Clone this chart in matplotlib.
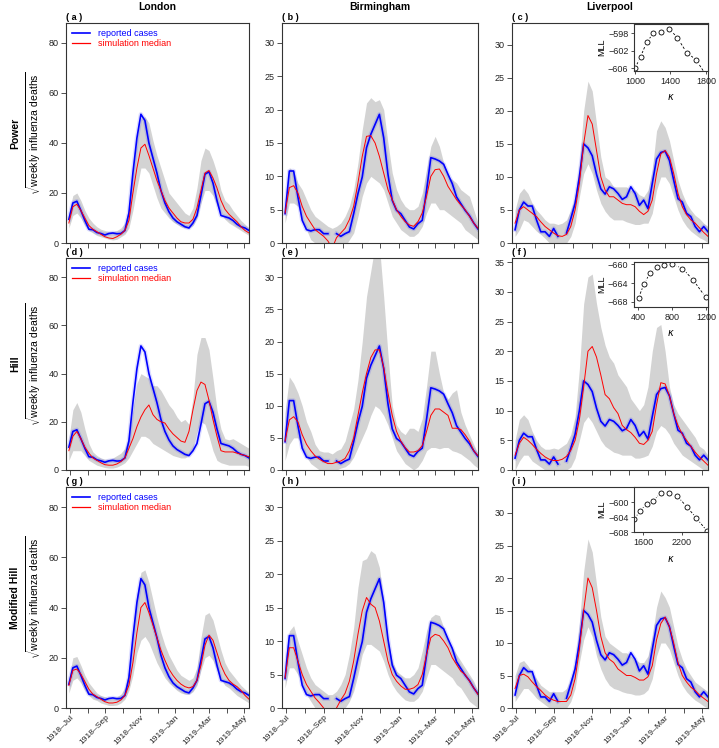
import numpy as np
import pandas as pd
import matplotlib
matplotlib.use('Agg')
import matplotlib.pyplot as plt
import matplotlib.dates as mdates

plt.rcParams.update({
    'font.family': 'Liberation Sans',
    'font.size': 7,
    'mathtext.fontset': 'custom',
    'mathtext.rm': 'Liberation Sans',
    'axes.linewidth': 0.8,
    'axes.edgecolor': '#333333',
    'xtick.color': '#333333',
    'ytick.color': '#333333',
    'xtick.labelcolor': '#222222',
    'ytick.labelcolor': '#222222',
})

nan = np.nan
weeks = pd.date_range('1918-06-29', periods=46, freq='7D')

# reported sqrt weekly deaths (same in every row)
reported_london = [9.5, 16, 16.7, 13, 9, 5.5, 5.3, 4.2, 3.8, 3.2, 3.8, 4.0, 3.7, 3.8, 5.0, 12, 28, 42, 51.5, 49,
                   40, 34, 28, 21, 16, 12.5, 10, 8.5, 7.5, 6.5, 6, 8, 11, 19, 27.5, 28.5, 24, 17, 11, 10.5,
                   10, 9, 7.5, 6.5, 6, 5]
reported_birmingham = [4.4, 10.8, 10.8, 6.9, 3.4, 2.0, 1.8, 2.0, 2.0, 1.4, 1.4, nan, 1.4, 1.0, 1.4, 1.7, 4.4, 7.4, 9.9, 14.3,
                       16.3, 17.8, 19.3, 15.8, 10.3, 6.4, 4.9, 4.4, 3.4, 2.4, 2.1, 2.9, 3.4, 7.9, 12.8, 12.6, 12.3, 11.8, 10.3, 8.9,
                       6.9, 5.9, 4.9, 4.1, 3.0, 2.1]
reported_liverpool = [2.0, 5.0, 6.2, 5.6, 5.6, 3.5, 1.7, 1.7, 1.0, 2.2, 1.0, nan, 1.5, 3.7, 6.0, 10, 15, 14.4, 13.2, 10.4,
                      8.2, 7.4, 8.5, 8.2, 7.5, 6.6, 7.0, 8.5, 7.5, 5.7, 6.5, 5.2, 9, 12.7, 13.7, 13.9, 12.5, 9.5, 6.7, 6.2,
                      4.5, 4.0, 2.5, 1.7, 2.5, 1.7]

# Power model
med_power_london = [8, 14.5, 15.5, 13, 10, 7, 5.5, 4.5, 3.5, 2.5, 2, 1.8, 2.5, 3.5, 5, 9, 20, 30, 38, 39.5,
                    35, 30, 25, 21, 17, 14, 12, 10, 8.5, 8, 8, 9.5, 14, 21, 28, 29, 26, 22, 17, 13.5,
                    11.5, 10, 8.5, 6.5, 5, 4]
hi_power_london = [12, 19, 20, 17, 13, 10, 8, 6.5, 5.5, 5, 4.5, 4.5, 5, 6, 8, 14, 28, 42, 50, 50.5,
                   48, 41, 35, 30, 25, 20, 18, 16, 14, 12, 11, 14, 22, 33, 38, 37, 33, 28, 21, 17,
                   15.5, 13, 11, 9, 7.5, 6]
lo_power_london = [6, 11, 12, 10, 7, 5, 4, 3, 2.5, 2, 1.5, 1.2, 1.5, 2.5, 3.5, 6, 13, 22, 30, 30,
                   28, 23, 18, 14, 12, 10, 8.5, 7.5, 6.5, 6, 6, 7, 10, 16, 21, 21, 19, 15, 12, 9.5,
                   8, 7, 6, 5, 4, 3]
med_power_birmingham = [4.5, 8.3, 8.6, 7.5, 5.5, 4, 3, 2, 1.5, 1, 0.3, -0.8, 0.8, 1.5, 2.2, 3.5, 5.5, 9, 13, 16,
                        16.1, 15, 13, 10.5, 8, 6.5, 5.0, 4.0, 3.2, 2.7, 2.5, 3.2, 4.5, 7, 10, 11, 11.1, 10, 8.5, 7.5,
                        6.5, 5.7, 5, 4, 3, 2.2]
hi_power_birmingham = [4.5, 11.3, 10.8, 9, 8, 6.5, 5, 4, 3.5, 3, 2.5, 2.2, 2.5, 3, 4, 5.5, 8, 12, 17, 21,
                       21.8, 21.2, 21.5, 20, 15, 10.5, 8, 6.5, 5.5, 5, 5, 5.5, 7.5, 11, 14.5, 16, 14.5, 12, 10, 9.5,
                       9, 8, 7.5, 7, 5, 3]
lo_power_birmingham = [3, 6, 6, 5.5, 3.5, 2, 0.5, 0, -0.5, -1, -1, -1, -1, -1, -0.5, 0.5, 1.5, 4, 7, 9,
                       10, 9.5, 9, 8, 6, 4, 3, 2, 1.5, 1, 1, 1.5, 2.5, 4.5, 6, 6, 5, 5, 4.5, 4,
                       3.5, 3, 2, 1.5, 1, 0.5]
med_power_liverpool = [3, 5, 5.5, 5, 4.5, 4, 3.2, 2.5, 2, 1.5, 1.1, 1, 1.3, 2.5, 5, 9, 15, 19.3, 18, 14,
                       10, 8, 7, 7, 6.5, 6, 5.8, 5.8, 5.5, 4.8, 4.3, 4.8, 6.5, 10.5, 13.5, 14, 13, 10.5, 7.5, 5.5,
                       4.3, 3.5, 3, 2.3, 1.6, 1.0]
hi_power_liverpool = [5, 7.5, 8.3, 7.5, 6, 5, 4.3, 3.5, 3, 3, 2.8, 3, 3.5, 5, 7, 12, 20, 24.5, 23, 18,
                      13, 10, 9.5, 8.5, 8.5, 8.5, 8.5, 8, 8, 7.3, 7, 8, 11, 17, 18.5, 17.5, 15.5, 12.5, 9.5, 7.5,
                      6, 5, 4.2, 3.7, 3, 2.5]
lo_power_liverpool = [1, 2, 3.5, 3.2, 2.5, 1.8, 1.3, 0.7, 0, -0.2, -0.3, -0.3, 0, 1, 3, 7, 10.5, 12, 10.5, 8,
                      6, 4.8, 4, 3.5, 3.5, 3.5, 3.2, 3, 2.8, 2.8, 3, 3, 4.5, 8, 10, 10, 9, 7, 5, 3.5,
                      2.5, 1.8, 1.3, 0.8, 0.5, 0]

# Hill model
med_hill_london = [8, 14, 16, 13, 9.5, 7, 5, 4, 3, 2.2, 2, 2, 2.5, 3.5, 5, 9, 13, 18, 22, 25,
                   27, 23, 21, 20, 19.5, 17, 15, 13.5, 12, 11.5, 16, 25, 33, 36.5, 35.5, 29, 21, 14, 8, 7.5,
                   7.5, 7.5, 7, 6.5, 6, 5.5]
hi_hill_london = [13, 25, 28, 24, 17, 11, 7.5, 6, 5, 4.5, 4.5, 5, 6, 7, 9, 14, 25, 36, 40, 39,
                  38, 35, 35, 33, 30, 27, 25, 22, 20, 21, 19, 30, 48, 55, 55, 50, 38, 25, 17, 13,
                  12.5, 13, 12, 11, 10, 9]
lo_hill_london = [4, 8, 8, 8, 6, 4, 3, 2, 1.5, 1, 0.8, 0.8, 1.2, 2, 3, 5, 8, 11, 14, 14,
                  13, 11, 10, 9, 8, 7, 6, 5.5, 5, 5, 6, 9, 16, 20, 19, 14, 8, 4, 3, 2.5,
                  2, 2, 2, 2, 2, 1.5]
med_hill_birmingham = [4.5, 7.8, 8.3, 7.5, 5.5, 4, 3, 2.2, 1.7, 1.3, 1.0, 1.0, 1.2, 1.4, 1.8, 3, 5, 8.5, 12, 15,
                       17.5, 18.7, 18.7, 16, 12, 8.5, 6, 4.5, 3.5, 2.8, 2.8, 3, 3.8, 6, 8.5, 9.5, 9.5, 9, 8.5, 6.5,
                       6.5, 6.3, 5.5, 4.5, 3, 2.2]
hi_hill_birmingham = [9, 14.5, 13.5, 12, 10, 7.5, 6, 4, 3, 2.8, 2.8, 2.5, 3, 3.3, 4.5, 7, 9.5, 14, 20, 27,
                      31, 35, 35, 27, 18, 10, 7, 6, 5.5, 6.5, 6.5, 6, 8, 13, 18.5, 18.5, 15, 12, 11, 12,
                      12.5, 9, 7, 5.5, 4, 2.5]
lo_hill_birmingham = [1.5, 4, 5, 5, 3.5, 2, 1, 0.5, 0, 0, 0, 0, 0, 0.3, 0.5, 1, 2, 3.5, 5, 6.5,
                      8.5, 10, 9.5, 8.5, 7, 5, 3, 2, 1, 0.5, 0, 0.5, 1.5, 3, 3.5, 3.5, 3.3, 3.5, 3.5, 3,
                      2.8, 2.5, 2, 1.5, 0.8, 0.3]
med_hill_liverpool = [2.5, 4.5, 5.5, 5, 4.3, 3.5, 2.8, 2.2, 1.8, 1.6, 1.6, 1.8, 2.3, 3.3, 5, 8.5, 14, 20, 20.8, 19,
                      16, 12.7, 12, 10.5, 9.5, 7.5, 6.8, 6.3, 5.5, 4.5, 4.3, 5, 6.5, 11, 14.7, 14.5, 12.5, 9.5, 7.5, 6,
                      5, 4, 3, 2.2, 1.5, 0.8]
hi_hill_liverpool = [5, 8.5, 9.3, 8.5, 6.5, 5, 4, 3.5, 3.5, 3.7, 3.5, 4, 4.5, 6, 9, 17, 28, 32.5, 33, 28,
                     24, 21, 19, 18, 16, 15, 14, 12, 11, 10, 11, 14, 20, 24, 24.5, 20, 14, 11, 9.5, 8.5,
                     7.5, 6.5, 5.5, 4, 3.5, 2.5]
lo_hill_liverpool = [0, 1.5, 2.5, 2.5, 1.5, 1, 0.5, 0, 0, 0, 0, 0, 0, 0.5, 2, 5, 8, 9, 8, 6.5,
                     5, 4, 3.5, 3, 2.8, 2.5, 2.5, 2.5, 2, 2, 2.2, 2.5, 4, 6.5, 7.5, 7, 6, 4.5, 3.5, 2.5,
                     2, 1.5, 1, 0.5, 0, 0]

# Modified Hill model
med_mhill_london = [9, 15, 15.5, 13.5, 10.5, 7.5, 5.5, 4.5, 3.5, 2.5, 2, 2, 2.3, 3.2, 5, 9, 18, 30, 40, 42,
                    38, 33, 28, 23, 19, 15.5, 13, 11, 9.5, 8.5, 8, 8.5, 11, 17, 25, 29, 27, 22, 17, 13.5,
                    11, 9.5, 8.5, 7, 5, 3.5]
hi_mhill_london = [12, 20, 20.5, 17, 13, 10, 8, 6, 5, 4.5, 4, 4, 4.5, 5.5, 8, 15, 30, 45, 54, 55,
                   50, 43, 36, 30, 25, 21, 18, 15, 13, 12, 11, 12, 16, 28, 37, 38, 35, 29, 23, 18,
                   15, 13, 11, 9, 7.5, 6]
lo_mhill_london = [6, 11, 12, 10, 7, 5, 3.5, 3, 2, 1.5, 1, 1, 1.2, 2, 3.5, 7, 13, 22, 27, 28.5,
                   26, 22, 18, 15, 12, 10, 8.5, 7, 6, 5.5, 5.5, 6.5, 9, 15, 20, 21, 19, 15, 11.5, 9,
                   8, 6.5, 5, 4, 3, 2]
med_mhill_birmingham = [4.5, 9, 9, 7, 5, 3.5, 2.5, 1.5, 0.8, 0, -1, -1, 0, 1.2, 2.2, 4, 7, 11, 14.5, 16.5,
                        15.5, 15, 13, 10, 7, 5, 4, 3.3, 2.8, 2.8, 3, 3.5, 5, 8, 10.5, 11, 10.8, 10, 9, 7.5,
                        6.5, 5.5, 5, 4, 3, 2]
hi_mhill_birmingham = [7, 11.5, 12.3, 10, 8, 6, 4.5, 3.5, 3, 2.5, 2, 2, 2.5, 3.5, 5, 8, 12, 18, 22, 22.3,
                       23.5, 23, 21, 16, 10, 7, 5.5, 5, 4.5, 4.5, 5, 6, 8.5, 11.5, 13.5, 14, 13.8, 12, 10, 9,
                       8, 7, 6, 5, 4, 2.5]
lo_mhill_birmingham = [3, 6, 6, 5, 3.5, 2, 1, 0, -1, -1, -1, -1, -1, -1, 0, 1, 2.5, 5, 8, 9.5,
                       9.5, 9, 8.5, 7, 5, 3.5, 2.5, 1.8, 1.2, 1, 1, 1.5, 2.5, 4.5, 6.5, 6.5, 6, 5.5, 5, 4.5,
                       3.5, 3, 2, 1, 0.5, 0]
med_mhill_liverpool = [3, 5, 5.2, 4.8, 4, 3.3, 2.7, 2, 1.5, 1.2, 1.0, 1.0, 1.0, 2, 4.5, 9, 15, 20, 18.5, 15,
                       11, 8.5, 7.5, 7, 6, 5.5, 5, 5, 4.7, 4.3, 4.3, 4.8, 6.5, 10.5, 13, 14, 12.5, 10, 7, 5,
                       4, 3.2, 2.7, 2, 1.5, 1]
hi_mhill_liverpool = [5, 7, 7.3, 6.5, 5.5, 4.5, 3.5, 3, 2.5, 2.5, 2.5, 2.5, 3, 4.5, 7, 13, 21, 26, 24, 19,
                      14, 11, 10, 9.5, 9, 8.5, 8.5, 8, 7.5, 7, 7, 8, 11, 15.5, 18, 17, 15.5, 12.5, 9.5, 7.5,
                      6, 5, 4, 3.5, 3, 2.5]
lo_mhill_liverpool = [1, 2, 3, 3, 2.3, 1.5, 1, 0.5, 0, -0.3, -0.3, -0.3, 0, 1, 3, 7, 10.5, 12.5, 11, 8,
                      6, 4.5, 3.5, 3, 2.8, 2.5, 2.3, 2.2, 2, 2, 2.2, 2.8, 4.5, 8, 10, 10, 9, 7, 5, 3.5,
                      2.5, 1.8, 1.2, 0.8, 0.3, 0]

# likelihood profiles (insets)
kappa_power = [1000, 1064, 1131, 1207, 1293, 1387, 1477, 1582, 1687, 1800]
mll_power = [-606.0, -603.3, -600.1, -598.0, -597.8, -597.0, -599.0, -602.4, -604.0, -607.5]
kappa_hill = [404, 467, 537, 616, 706, 804, 922, 1047, 1196]
mll_hill = [-667.1, -664.2, -661.9, -660.6, -660.1, -660.0, -660.9, -663.3, -667.0]
kappa_mhill = [1459, 1548, 1652, 1757, 1871, 1997, 2132, 2278, 2424, 2600]
mll_mhill = [-604.5, -602.3, -600.4, -599.6, -597.4, -597.4, -598.3, -601.1, -604.1, -607.8]

cities = ['London', 'Birmingham', 'Liverpool']
models = ['Power', 'Hill', 'Modified Hill']
reported = [reported_london, reported_birmingham, reported_liverpool]
medians = [[med_power_london, med_power_birmingham, med_power_liverpool],
           [med_hill_london, med_hill_birmingham, med_hill_liverpool],
           [med_mhill_london, med_mhill_birmingham, med_mhill_liverpool]]
his = [[hi_power_london, hi_power_birmingham, hi_power_liverpool],
       [hi_hill_london, hi_hill_birmingham, hi_hill_liverpool],
       [hi_mhill_london, hi_mhill_birmingham, hi_mhill_liverpool]]
los = [[lo_power_london, lo_power_birmingham, lo_power_liverpool],
       [lo_hill_london, lo_hill_birmingham, lo_hill_liverpool],
       [lo_mhill_london, lo_mhill_birmingham, lo_mhill_liverpool]]
letters = ['a', 'b', 'c', 'd', 'e', 'f', 'g', 'h', 'i']

W, H = 719, 748
fig = plt.figure(figsize=(W / 100, H / 100), dpi=100)


def px_axes(left, top, right, bottom):
    return fig.add_axes([left / W, 1 - bottom / H, (right - left) / W, (bottom - top) / H])


col_x = [(66, 249), (282, 478), (512, 708)]
row_y = [(23, 243), (258, 470), (487, 708)]
ylims = [[88, 33, 33.3], [88, 33, 35.7], [88, 33, 34]]

for r in range(3):
    for c in range(3):
        ax = px_axes(col_x[c][0], row_y[r][0], col_x[c][1], row_y[r][1])
        ax.fill_between(weeks, los[r][c], his[r][c], color='#d3d3d3', lw=0)
        ax.plot(weeks, reported[c], color='#0000ff', lw=3.2, alpha=0.13)
        ax.plot(weeks, reported[c], color='#0000ff', lw=1.2, label='reported cases')
        ax.plot(weeks, medians[r][c], color='#ff0000', lw=0.7, label='simulation median')
        ax.set_xlim(pd.Timestamp('1918-06-24'), pd.Timestamp('1919-05-10'))
        ax.set_ylim(0, ylims[r][c])
        if c == 0:
            ax.set_yticks([0, 20, 40, 60, 80])
        else:
            ax.set_yticks(np.arange(0, ylims[r][c], 5))
        ax.xaxis.set_major_locator(mdates.MonthLocator(bymonth=[1, 3, 5, 7, 9, 11]))
        ax.xaxis.set_minor_locator(mdates.MonthLocator(bymonth=[2, 4, 6, 8, 10, 12]))
        ax.xaxis.set_major_formatter(mdates.DateFormatter('%Y\u2013%b'))
        ax.tick_params(which='both', direction='out', length=3.5, width=0.6, labelsize=6.5, pad=2)
        if r == 2:
            ax.tick_params(axis='x', labelsize=6.1, pad=0.8)
            plt.setp(ax.get_xticklabels(), rotation=45, ha='right', rotation_mode='anchor')
        else:
            ax.tick_params(axis='x', labelbottom=False)
        ax.text(0.0, 1.004, '( %s )' % letters[3 * r + c], transform=ax.transAxes,
                fontsize=6.5, fontweight='bold', va='bottom', ha='left')
        if c == 0:
            leg = ax.legend(loc='upper left', frameon=False, fontsize=6.5, handlelength=2.0,
                            borderpad=0.2, borderaxespad=0.5, labelspacing=0.1, handletextpad=0.9,
                            labelcolor=['#0000ff', '#ff0000'])
            leg.get_lines()[1].set_linewidth(0.9)
            ymid = (row_y[r][0] + row_y[r][1]) / 2
            fig.text(34 / W, 1 - ymid / H, r'$\sqrt{\mathrm{weekly\ influenza\ deaths}}$',
                     rotation=90, ha='center', va='center', fontsize=7.5)
            fig.text(15 / W, 1 - ymid / H, models[r], rotation=90, ha='center', va='center',
                     fontsize=7.5, fontweight='bold')
        if r == 0:
            fig.text((col_x[c][0] + col_x[c][1]) / 2 / W, 1 - 7 / H, cities[c],
                     ha='center', va='center', fontsize=7.5, fontweight='bold')

# insets in the Liverpool panels
insets = [
    (kappa_power, mll_power, (634, 24, 708, 71), (989, 1823), (-606.6, -595.9),
     [1000, 1400, 1800], [-606, -602, -598]),
    (kappa_hill, mll_hill, (634, 262, 708, 307), (349, 1224), (-669.1, -659.5),
     [400, 800, 1200], [-668, -664, -660]),
    (kappa_mhill, mll_mhill, (634, 487, 708, 532), (1454, 2612), (-608.0, -595.8),
     [1600, 2200], [-608, -604, -600]),
]
for kap, mll, box, xl, yl, xt, yt in insets:
    ia = px_axes(*box)
    ia.set_facecolor('white')
    ia.plot(kap, mll, color='black', lw=0.6, dashes=(3, 2))
    ia.plot(kap, mll, 'o', ms=5.5, mfc='white', mec='white', ls='none')
    ia.plot(kap, mll, 'o', ms=3.6, mfc='white', mec='black', mew=0.6, ls='none')
    ia.set_xlim(*xl)
    ia.set_ylim(*yl)
    ia.set_xticks(xt)
    ia.set_yticks(yt)
    ia.tick_params(direction='out', length=2.5, width=0.6, labelsize=6.5, pad=1.5)
    ia.set_ylabel('MLL', fontsize=6.5, labelpad=1)
    ia.set_xlabel(r'$\kappa$', fontsize=7, labelpad=5)

fig.savefig('out.png', dpi=100)
